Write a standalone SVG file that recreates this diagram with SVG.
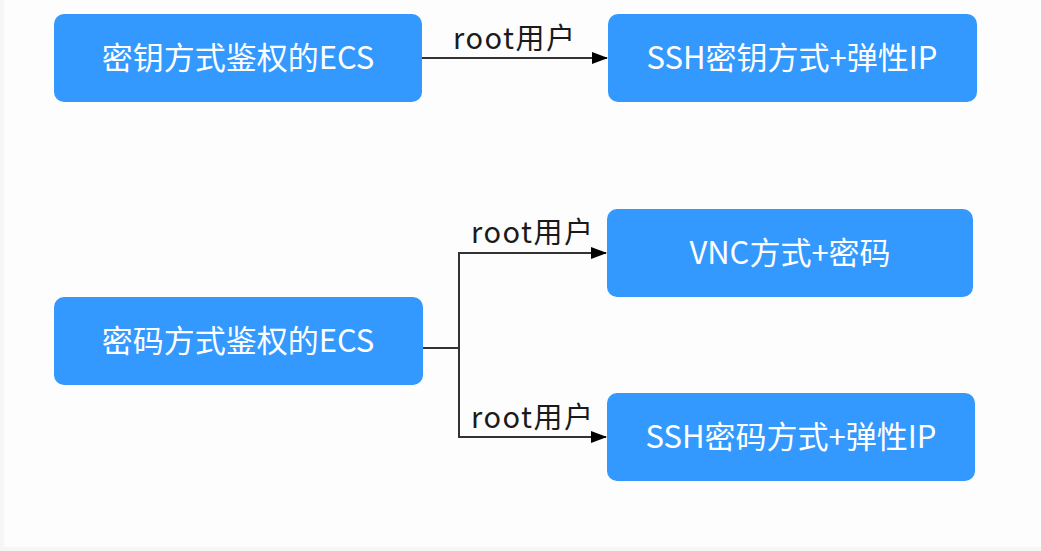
<svg xmlns="http://www.w3.org/2000/svg" width="1041" height="551" viewBox="0 0 1041 551">
<defs>
<style>
.node rect{fill:#3399ff;}
.node text{fill:#ffffff;font-family:"Noto Sans CJK SC","Noto Sans",sans-serif;font-size:31px;text-anchor:middle;dominant-baseline:central;}
.edge{stroke:#333333;stroke-width:2;fill:none;}
.lbl{fill:#1a1a1a;font-family:"Noto Sans CJK SC","Noto Sans",sans-serif;font-size:29px;letter-spacing:1.5px;}
</style>
<marker id="arr" markerWidth="16" markerHeight="12" refX="15" refY="6" orient="auto" markerUnits="userSpaceOnUse">
<path d="M0,0 L16,6 L0,12 Z" fill="#000000"/>
</marker>
</defs>
<rect x="0" y="0" width="1041" height="551" fill="#f6f6f6"/>
<rect x="4" y="0" width="1037" height="547" fill="#fdfdfd"/>
<g id="connectors">
<line class="edge" x1="422" y1="58" x2="607" y2="58" marker-end="url(#arr)"/>
<path class="edge" d="M423,348 H459"/>
<path class="edge" d="M459,348 V253 H606" marker-end="url(#arr)"/>
<path class="edge" d="M459,348 V437 H606" marker-end="url(#arr)"/>
<text class="lbl" x="453" y="49">root用户</text>
<text class="lbl" x="471" y="243">root用户</text>
<text class="lbl" x="471" y="428">root用户</text>
</g>
<g id="n1" class="node"><rect x="54" y="14" width="368" height="88" rx="10"/><text x="238" y="55">密钥方式鉴权的ECS</text></g>
<g id="n2" class="node"><rect x="608" y="14" width="369" height="88" rx="10"/><text x="792" y="55">SSH密钥方式+弹性IP</text></g>
<g id="n3" class="node"><rect x="54" y="297" width="369" height="88" rx="10"/><text x="238" y="338">密码方式鉴权的ECS</text></g>
<g id="n4" class="node"><rect x="607" y="209" width="366" height="88" rx="10"/><text x="790" y="250">VNC方式+密码</text></g>
<g id="n5" class="node"><rect x="607" y="393" width="368" height="88" rx="10"/><text x="791" y="434">SSH密码方式+弹性IP</text></g>
</svg>
